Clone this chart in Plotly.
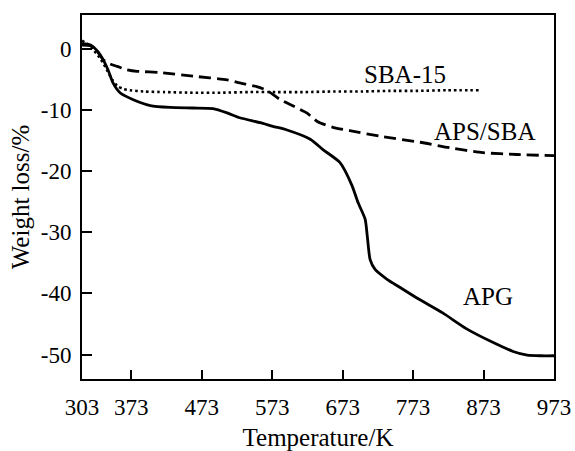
import plotly.graph_objects as go

# Temperature (K) and weight loss (%)
apg_T = [303, 315, 325, 333, 340, 347, 357, 375, 400, 428, 460, 489, 509, 527, 556, 574, 594, 627, 645, 669, 686, 695, 705, 708, 712, 719, 736, 754, 779, 815, 849, 886, 915, 935, 955, 973]
apg_W = [0.8, 0.6, -0.4, -1.8, -3.5, -5.6, -7.2, -8.3, -9.3, -9.6, -9.7, -9.8, -10.5, -11.3, -12.1, -12.7, -13.3, -14.8, -16.5, -18.6, -22.3, -25.2, -27.9, -30.7, -34.5, -36.1, -37.7, -39.0, -40.8, -43.2, -45.8, -48.0, -49.5, -50.1, -50.2, -50.2]

aps_T = [303, 315, 325, 333, 343, 353, 365, 381, 414, 461, 509, 527, 551, 565, 584, 605, 622, 637, 660, 683, 730, 783, 825, 872, 920, 973]
aps_W = [0.6, 0.5, -0.5, -1.8, -2.5, -2.9, -3.4, -3.7, -3.9, -4.5, -5.1, -5.6, -6.2, -6.8, -8.3, -9.5, -10.5, -11.9, -12.9, -13.4, -14.4, -15.3, -16.2, -17.0, -17.3, -17.5]

sba_T = [303, 310, 320, 330, 338, 346, 354, 362, 371, 390, 420, 460, 500, 540, 580, 620, 660, 700, 740, 780, 820, 866]
sba_W = [1.3, 0.8, -0.3, -1.8, -3.4, -5.1, -6.2, -6.6, -6.8, -7.0, -7.1, -7.2, -7.2, -7.1, -7.1, -7.1, -7.0, -7.0, -6.9, -6.9, -6.8, -6.8]

x_ticks = [303, 373, 473, 573, 673, 773, 873, 973]
y_ticks = [0, -10, -20, -30, -40, -50]

labels = [("SBA-15", 761, -4.3), ("APS/SBA", 875, -13.6), ("APG", 880, -40.5)]

FONT = "Liberation Serif"

fig = go.Figure()
fig.add_trace(go.Scatter(x=apg_T, y=apg_W, mode="lines",
                         line=dict(color="black", width=2.8, shape="spline", smoothing=0.6)))
fig.add_trace(go.Scatter(x=aps_T, y=aps_W, mode="lines",
                         line=dict(color="black", width=2.8, dash="12px,6px", shape="spline", smoothing=0.6)))
fig.add_trace(go.Scatter(x=sba_T, y=sba_W, mode="lines",
                         line=dict(color="black", width=2.6, dash="2.5px,3px", shape="spline", smoothing=0.6)))

for text, x, y in labels:
    fig.add_annotation(x=x, y=y, text=text, showarrow=False,
                       font=dict(family=FONT, size=25, color="black"))

fig.update_layout(
    width=575, height=451,
    margin=dict(l=82, r=21, t=15, b=72),
    plot_bgcolor="white", paper_bgcolor="white",
    showlegend=False,
    font=dict(family=FONT, size=23, color="black"),
)
fig.update_xaxes(range=[303, 973], tickvals=x_ticks, ticktext=[str(v) for v in x_ticks],
                 ticks="inside", ticklen=9, tickwidth=2, tickcolor="black",
                 showline=True, linewidth=2, linecolor="black", mirror=True,
                 showgrid=False, zeroline=False, ticklabelstandoff=6, automargin=False,
                 title=dict(text="Temperature/K", font=dict(family=FONT, size=25), standoff=12))
fig.update_yaxes(range=[-54, 5.5], tickvals=y_ticks, ticktext=[str(v) for v in y_ticks],
                 ticks="inside", ticklen=10, tickwidth=2, tickcolor="black",
                 showline=True, linewidth=2, linecolor="black", mirror=True,
                 showgrid=False, zeroline=False, ticklabelstandoff=4, automargin=False,
                 title=dict(text="Weight loss/%", font=dict(family=FONT, size=25), standoff=4))

fig.write_html("out.html", config={"displayModeBar": False},
               post_script="document.body.style.margin='0';document.body.style.padding='0';")
